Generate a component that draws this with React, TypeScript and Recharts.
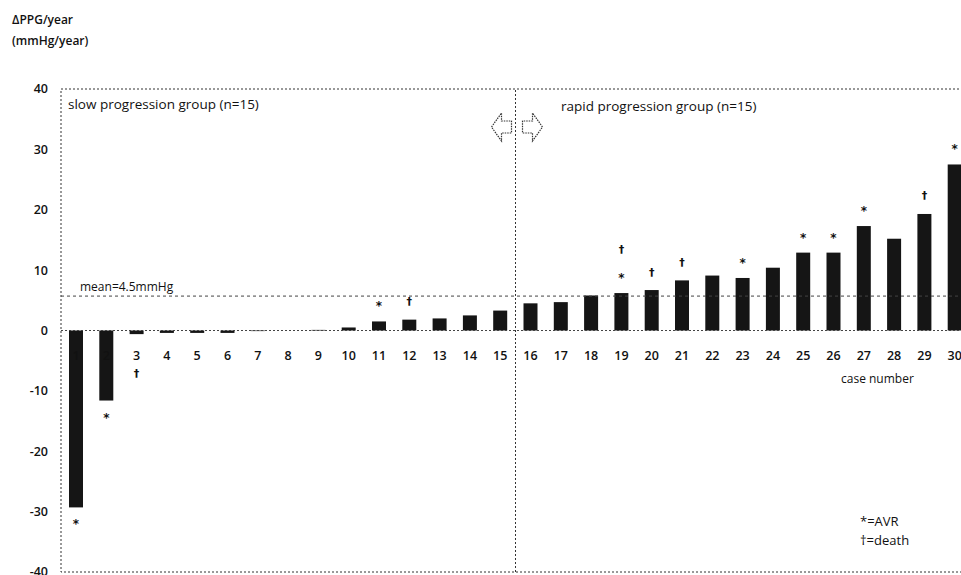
import React from 'react'
import { ComposedChart, Bar, XAxis, YAxis, ReferenceLine, ReferenceArea } from 'recharts'

// ΔPPG/year por caso, ordenado de menor a mayor; la línea vertical separa
// el grupo de progresión lenta (1–15) del de progresión rápida (16–30).
const caseNumbers = [
  1, 2, 3, 4, 5, 6, 7, 8, 9, 10, 11, 12, 13, 14, 15,
  16, 17, 18, 19, 20, 21, 22, 23, 24, 25, 26, 27, 28, 29, 30,
]
const ppgPerYear = [
  -29.3, -11.6, -0.6, -0.4, -0.4, -0.4, -0.1, 0, 0.1, 0.5, 1.5, 1.8, 2.0, 2.5, 3.3,
  4.5, 4.7, 5.8, 6.2, 6.7, 8.3, 9.1, 8.7, 10.4, 12.9, 12.9, 17.3, 15.2, 19.3, 27.5,
]
// '*' = AVR, '†' = death (de la barra hacia fuera)
const caseMarks = [
  '*', '*', '†', '', '', '', '', '', '', '', '*', '†', '', '', '',
  '', '', '', '*†', '†', '†', '', '*', '', '*', '*', '*', '', '†', '*',
]
const yTicks = [-40, -30, -20, -10, 0, 10, 20, 30, 40]
const groupSplit = 15.5
const meanLevel = 5.7

const rows = caseNumbers.map((n, i) => ({ case: n, value: ppgPerYear[i], mark: caseMarks[i] }))

const FONT = '"Open Sans", sans-serif'
const MARK_FONT = '"DejaVu Sans", sans-serif'
const INK = '#111'
const BAR = '#151515'
const DOT = '2 2'

function CaseBar(props: any) {
  const { x, y, width, height, payload } = props
  const top = Math.min(y, y + height)
  const bottom = Math.max(y, y + height)
  const neg = payload.value < 0
  const zeroY = neg ? top : bottom
  const endY = neg ? bottom : top
  const cx = x + width / 2
  const labelY = zeroY + 25
  const marks: string[] = Array.from(payload.mark as string)
  return (
    <g>
      <rect x={x} y={top} width={width} height={bottom - top} fill={BAR} />
      <text x={cx} y={labelY} textAnchor="middle" dominantBaseline="central"
        fontFamily={FONT} fontSize={12.5} fontWeight={600} fill={INK}>{payload.case}</text>
      {marks.map((m, i) => {
        const my = neg ? Math.max(endY + 14, labelY + 18) + i * 26 : endY - 18 - i * 26
        return (
          <text key={i} x={cx} y={m === '*' ? my + 3 : my} textAnchor="middle" dominantBaseline="central"
            fontFamily={MARK_FONT} fontSize={m === '*' ? 12 : 11} fontWeight={700} fill={INK}>{m}</text>
        )
      })}
    </g>
  )
}

// flechas huecas a ambos lados de la división entre grupos
function ArrowsLabel(props: any) {
  const vb = props.viewBox ?? {}
  const lx = vb.x ?? 0
  const cy = (vb.y ?? 0) + 38
  const arrow = (cx: number, dir: number) => {
    const p = [[-10, 0], [0, -14], [0, -6], [10, -6], [10, 6], [0, 6], [0, 14]]
      .map(([dx, dy]) => `${cx + dx * dir},${cy + dy}`).join(' ')
    return <polygon points={p} fill="#fff" stroke="#333" strokeWidth={1.2} strokeDasharray="1.5 1" />
  }
  return (
    <g>
      {arrow(lx - 14, 1)}
      {arrow(lx + 17, -1)}
    </g>
  )
}

function MeanLabel(props: any) {
  const vb = props.viewBox ?? {}
  return (
    <text x={(vb.x ?? 0) + 19} y={(vb.y ?? 0) - 10} dominantBaseline="central"
      fontFamily={FONT} fontSize={12} fill={INK}>mean=4.5mmHg</text>
  )
}

const txt = (left: number, top: number, size: number, weight = 400): React.CSSProperties => ({
  position: 'absolute', left, top, fontSize: size, fontWeight: weight, lineHeight: 1,
  color: INK, whiteSpace: 'nowrap',
})

export default function App() {
  return (
    <div style={{ position: 'fixed', left: 0, top: 0, width: 961, height: 575, overflow: 'hidden', background: '#fff', fontFamily: FONT }}>
      <ComposedChart width={972} height={575} data={rows} margin={{ top: 89, right: 2, bottom: 3, left: 0 }}>
        <XAxis type="number" dataKey="case" domain={[0.5, 30.5]} hide />
        <YAxis type="number" domain={[-40, 40]} ticks={yTicks} width={61} interval={0}
          axisLine={false} tickLine={false} tickMargin={7}
          tick={{ fontSize: 12.5, fontWeight: 600, fill: INK, fontFamily: FONT }} />
        <ReferenceArea x1={0.5} x2={30.5} y1={-40} y2={40} fill="none" stroke="#333" strokeDasharray={DOT} />
        <ReferenceLine y={0} stroke="#444" strokeDasharray={DOT} />
        <ReferenceLine y={meanLevel} stroke="#444" strokeDasharray="3 3" label={<MeanLabel />} />
        <Bar dataKey="value" barSize={14} shape={<CaseBar />} isAnimationActive={false} />
        <ReferenceLine x={groupSplit} stroke="#333" strokeDasharray={DOT} label={<ArrowsLabel />} />
      </ComposedChart>

      <div style={txt(12, 14, 12, 600)}>ΔPPG/year</div>
      <div style={txt(12, 35, 12, 600)}>(mmHg/year)</div>
      <div style={txt(68, 98, 13.5)}>slow progression group (n=15)</div>
      <div style={txt(561, 100, 13.5)}>rapid progression group (n=15)</div>
      <div style={txt(841, 373, 12)}>case number</div>
      <div style={txt(860, 515, 13)}>*=AVR</div>
      <div style={txt(860, 534, 13)}>†=death</div>
    </div>
  )
}
